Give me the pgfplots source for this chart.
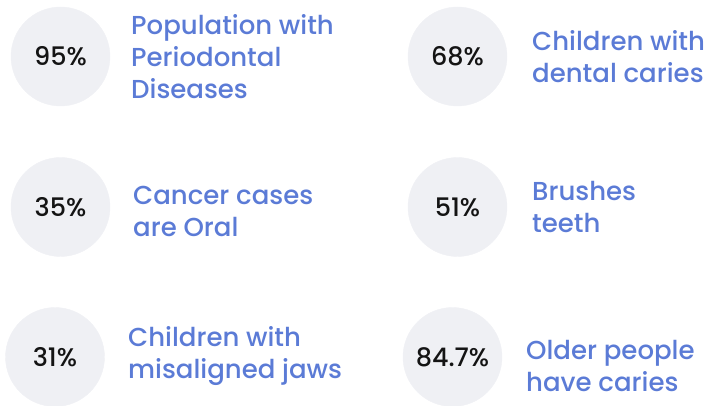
\documentclass[border=0pt]{standalone}
\usepackage{pgfplots}
\pgfplotsset{compat=1.18}
\usepackage{fontspec}
\setmainfont{Poppins}[UprightFont={* Medium}]
\definecolor{txtblue}{RGB}{91,123,214}
\definecolor{circfill}{RGB}{239,240,244}
\definecolor{numblack}{RGB}{20,20,20}
\begin{document}
\begin{tikzpicture}
\begin{axis}[
  scale only axis, width=713pt, height=406pt,
  xmin=0, xmax=713, ymin=0, ymax=406, y dir=reverse,
  hide axis, clip=false,
]
\addplot[only marks, mark=*, mark size=49.5pt, color=circfill, mark options={fill=circfill, draw=circfill},
  nodes near coords, point meta=explicit symbolic,
  every node near coord/.style={anchor=center, font=\fontsize{25.5}{30}\selectfont, text=numblack}]
  coordinates {
  (60.5,56.5) [95\%]
  (457.5,56.5) [68\%]
  (60.5,207) [35\%]
  (457.5,207) [51\%]
  (55,357) [31\%]
  (452.5,357) [84.7\%]
};
\begin{scope}[every node/.style={anchor=west, align=left, text=txtblue, font=\fontsize{26}{32}\selectfont, inner sep=0pt}]
\node at (axis cs:131,57) {Population with\\Periodontal\\Diseases};
\node at (axis cs:532,57) {Children with\\dental caries};
\node at (axis cs:133,211) {Cancer cases\\are Oral};
\node at (axis cs:532,207) {Brushes\\teeth};
\node at (axis cs:128,356) {Children with\\misaligned jaws};
\node at (axis cs:526,366) {Older people\\have caries};
\end{scope}
\end{axis}
\pgfresetboundingbox
\path (current axis.south west) rectangle (current axis.north east);
\end{tikzpicture}
\end{document}
